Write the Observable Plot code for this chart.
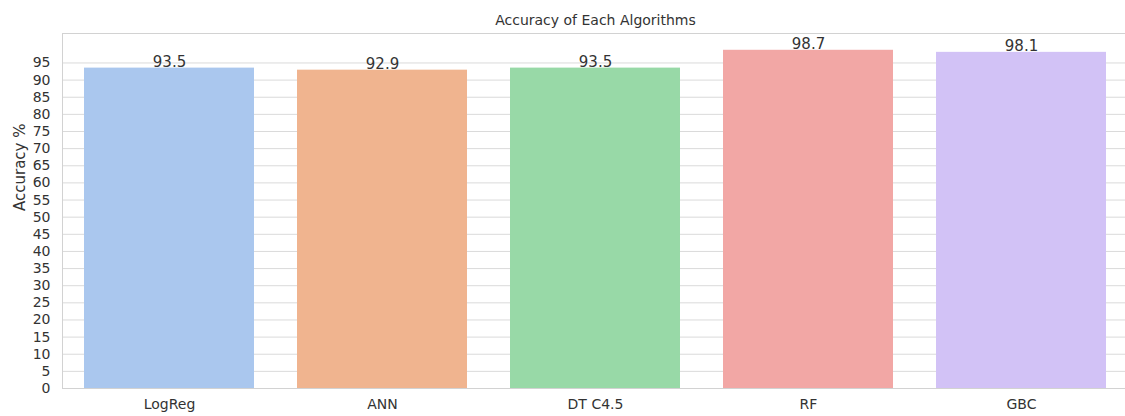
<!DOCTYPE html>
<html><head><meta charset="utf-8">
<script src="https://cdn.jsdelivr.net/npm/d3@7"></script>
<script src="https://cdn.jsdelivr.net/npm/@observablehq/plot@0.6"></script>
<style>
html,body{margin:0;padding:0;background:#fff;overflow:hidden;width:1125px;height:416px}
#title{width:1129px;height:27px;box-sizing:border-box;padding-top:13px;padding-left:62px;font-family:"DejaVu Sans",sans-serif;font-size:14px;line-height:14px;color:#333;text-align:center;white-space:nowrap}
svg{max-width:none !important;display:block}
</style>
</head><body>
<div id="title">Accuracy of Each Algorithms</div>
<div id="chart"></div>
<script>
const algorithms = ["LogReg", "ANN", "DT C4.5", "RF", "GBC"];
const accuracy = [93.5, 92.9, 93.5, 98.7, 98.1];
const barColors = ["#aac7ee", "#f0b48f", "#98d9a7", "#f2a7a5", "#d2c2f6"];
const yTicks = d3.range(0, 100, 5);
const yLabel = "Accuracy %";

const data = algorithms.map((a, i) => ({algorithm: a, accuracy: accuracy[i]}));

const chart = Plot.plot({
  width: 1129,
  height: 389,
  marginTop: 6,
  marginBottom: 28,
  marginLeft: 62,
  marginRight: 0,
  style: {fontFamily: "DejaVu Sans, sans-serif", fontSize: "13px", color: "#333", background: "#fff"},
  x: {domain: algorithms, paddingInner: 0.2, paddingOuter: 0.1, label: null},
  y: {domain: [0, 103.6], label: null},
  color: {domain: algorithms, range: barColors},
  marks: [
    Plot.gridY(yTicks, {stroke: "#dadada", strokeOpacity: 1, strokeWidth: 1}),
    Plot.frame({stroke: "#d2d2d2", strokeWidth: 1}),
    Plot.barY(data, {x: "algorithm", y: "accuracy", fill: "algorithm"}),
    Plot.text(data, {x: "algorithm", y: "accuracy", text: d => d.accuracy.toFixed(1), lineAnchor: "bottom", dy: -1, fontSize: 15, fill: "#333"}),
    Plot.axisY({ticks: yTicks, tickSize: 0, tickPadding: 12, label: null, fontSize: 14, fill: "#333"}),
    Plot.axisX({tickSize: 0, tickPadding: 11, label: null, fontSize: 14, fill: "#333"}),
    Plot.text([yLabel], {frameAnchor: "left", rotate: -90, dx: -42, text: d => d, fontSize: 15, fill: "#333"})
  ]
});
document.getElementById("chart").appendChild(chart);
</script>
</body></html>
